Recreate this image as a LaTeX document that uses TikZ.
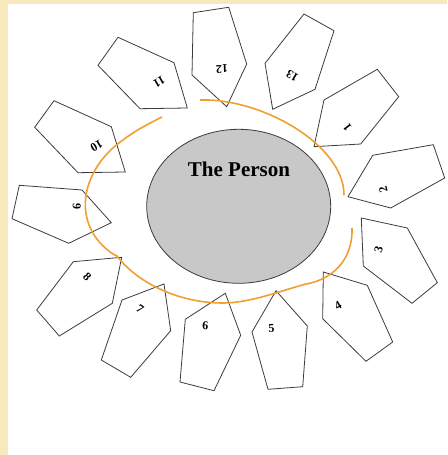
\documentclass[tikz,border=0pt]{standalone}
\usepackage{fontspec}
\setmainfont{Liberation Serif}
\usepackage{tikz}
\usetikzlibrary{positioning}

\definecolor{cream}{HTML}{F8E9BC}
\definecolor{ring}{HTML}{F0A030}
\definecolor{headfill}{HTML}{C8C8C8}
\definecolor{edge}{HTML}{3C3C3C}

\begin{document}
\begin{tikzpicture}[
    x=1pt, y=-1pt,
    petal/.style={draw=edge, line width=0.8pt, fill=white, line join=miter},
    num/.style={font=\fontsize{12}{12}\selectfont\bfseries, inner sep=0pt},
    head/.style={ellipse, draw=edge, line width=0.8pt, fill=headfill},
    orbit/.style={draw=ring, line width=1.6pt}
]
  % frame
  \useasboundingbox (0,0) rectangle (447,455);
  \fill[cream] (0,0) rectangle (447,455);
  \fill[white] (8,4) rectangle (447,455);

  % the person
  \fill[headfill, draw=edge, line width=0.8pt] (238.7,206.3) ellipse [x radius=92, y radius=77];
  \node[font=\fontsize{21}{21}\selectfont\bfseries, inner sep=0pt] (person) at (239,169) {The Person};

  % petals
  \draw[petal] (193.3,12.7) -- (228.7,7.3) -- (246.7,64) -- (226.7,106.7) -- (192,75) -- cycle;
  \draw[petal] (304,14) -- (334,30.7) -- (315,89.3) -- (272.7,109.3) -- (265,63.3) -- cycle;
  \draw[petal] (377.3,69.3) -- (398.7,96.7) -- (360.7,144) -- (314,146.7) -- (324,100) -- cycle;
  \draw[petal] (372.7,155.3) -- (433.3,144.7) -- (444.7,178) -- (390.7,208) -- (348,196.7) -- cycle;
  \draw[petal] (361.3,218) -- (407.3,228) -- (437.3,282.7) -- (412,303.3) -- (363.3,266) -- cycle;
  \draw[petal] (323.3,272) -- (367.3,285.3) -- (392.7,342) -- (366,361.3) -- (322.7,318.7) -- cycle;
  \draw[petal] (276,290.7) -- (307.3,326) -- (302.7,386.7) -- (268,389.3) -- (252,332) -- cycle;
  \draw[petal] (225.3,293.3) -- (240.7,335.3) -- (214,390.7) -- (180,382) -- (185.3,319.3) -- cycle;
  \draw[petal] (164,284) -- (170.7,330.7) -- (130.7,377.3) -- (101.3,360) -- (122,300) -- cycle;
  \draw[petal] (73.3,261.7) -- (121.7,257.3) -- (112.3,303.3) -- (59.3,336) -- (36.7,310) -- cycle;
  \draw[petal] (19.3,185.3) -- (82,190) -- (111.3,222.7) -- (68.7,243.3) -- (12,218.7) -- cycle;
  \draw[petal] (54,100.7) -- (111.3,126.7) -- (125.3,172) -- (78,172.7) -- (34.7,127.3) -- cycle;
  \draw[petal] (118,37.3) -- (174,62.7) -- (187.3,108) -- (140,108.7) -- (98,65.3) -- cycle;

  % numbers
  \node[num, rotate=128] (n1) at (347.3,127.7) {1};
  \node[num, rotate=105] (n2) at (383.3,189.3) {2};
  \node[num, rotate=75] (n3) at (378.7,249.3) {3};
  \node[num, rotate=30] (n4) at (338,305.3) {4};
  \node[num, rotate=3] (n5) at (271.3,328.7) {5};
  \node[num, rotate=-3] (n6) at (205.3,325.3) {6};
  \node[num, rotate=-35] (n7) at (140,309.3) {7};
  \node[num, rotate=-45] (n8) at (87.3,277.3) {8};
  \node[num, rotate=-90] (n9) at (76.7,206.7) {9};
  \node[num, rotate=-150] (n10) at (96.7,146) {10};
  \node[num, rotate=-150] (n11) at (159.3,82) {11};
  \node[num, rotate=182] (n12) at (222,69) {12};
  \node[num, rotate=150] (n13) at (292.3,76) {13};

  % orange ring
  \draw[orbit] (200,100) .. controls (262,98) and (344,145) .. (344,195);
  \draw[orbit] (352,228) .. controls (353,262) and (330,280) .. (306,284)
    .. controls (280,291) and (250,303) .. (223,303)
    .. controls (175,303) and (135,280) .. (117,256) -- (113,254)
    .. controls (70,225) and (80,170) .. (123,140)
    .. controls (136,130) and (150,123) .. (162,117);
\end{tikzpicture}
\end{document}
